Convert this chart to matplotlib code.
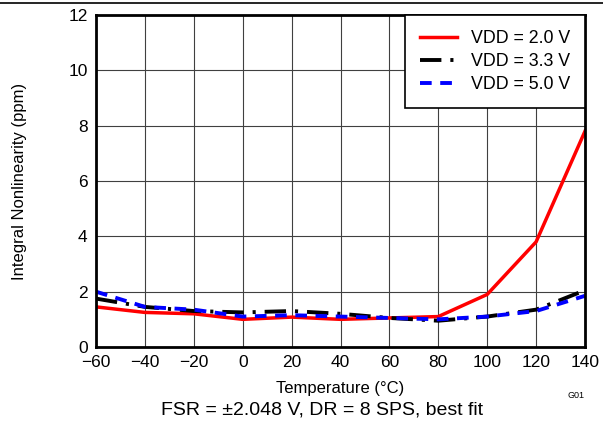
import matplotlib.pyplot as plt
import numpy as np

plt.rcParams['font.family'] = ['Liberation Sans', 'DejaVu Sans']

# Temperature sweep
temp = [-60, -40, -20, 0, 20, 40, 60, 80, 100, 120, 140]

# INL in ppm for each supply
inl_2v0 = [1.45, 1.25, 1.2, 1.0, 1.08, 1.0, 1.05, 1.1, 1.9, 3.8, 7.8]
inl_3v3 = [1.75, 1.45, 1.3, 1.25, 1.3, 1.2, 1.05, 0.95, 1.1, 1.35, 2.05]
inl_5v0 = [2.0, 1.45, 1.35, 1.1, 1.15, 1.1, 1.05, 1.0, 1.1, 1.3, 1.85]

fig = plt.figure(figsize=(6.03, 4.26), dpi=100)
ax = fig.add_axes([96 / 603, 1 - 347 / 426, 489 / 603, 332 / 426])

ax.plot(temp, inl_2v0, color='#ff0000', lw=2.5, label='VDD = 2.0 V')
ax.plot(temp, inl_3v3, color='black', lw=2.8, dashes=(5.5, 2.3, 0.8, 2.3), label='VDD = 3.3 V')
ax.plot(temp, inl_5v0, color='#0000ff', lw=2.8, dashes=(3, 2.2), label='VDD = 5.0 V')

ax.set_xlim(-60, 140)
ax.set_ylim(0, 12)
ax.set_xticks(np.arange(-60, 141, 20))
ax.set_yticks(np.arange(0, 13, 2))
ax.set_xticklabels([str(t).replace('-', '\u2212') for t in range(-60, 141, 20)])
ax.grid(True, color='#404040', lw=0.8)
ax.tick_params(length=0, labelsize=12.5, pad=6)
for s in ax.spines.values():
    s.set_linewidth(2)

ax.set_xlabel('Temperature (°C)', fontsize=12, labelpad=8)
ax.set_ylabel('Integral Nonlinearity (ppm)', fontsize=12, labelpad=30)

leg = ax.legend(loc='upper right', fontsize=12.8, fancybox=False, framealpha=1,
                edgecolor='black', borderaxespad=0, handlelength=2.1,
                labelspacing=0.34, borderpad=0.85, handletextpad=0.75)
leg.get_frame().set_linewidth(1.2)

fig.text(576 / 603, 1 - 395 / 426, 'G01', fontsize=6.5, ha='center', va='center')
fig.text(322 / 603, 1 - 410 / 426, 'FSR = ±2.048 V, DR = 8 SPS, best fit',
         fontsize=14, ha='center', va='center')
fig.add_artist(plt.Line2D([0, 1], [1 - 3 / 426, 1 - 3 / 426], color='black', lw=1.2))

fig.savefig('out.png', dpi=100)
